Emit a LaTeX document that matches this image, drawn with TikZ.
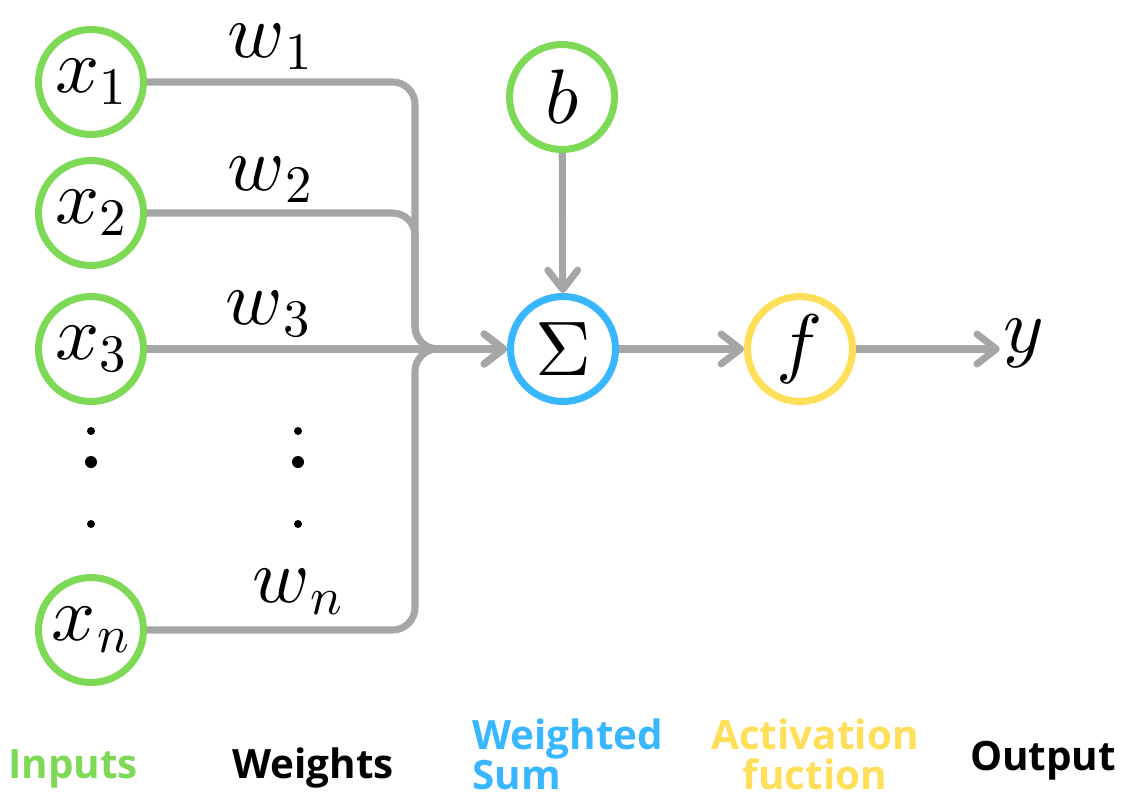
\RequirePackage{fix-cm}
\documentclass[tikz,border=0pt]{standalone}
\usepackage[no-math]{fontspec}
\newfontfamily\labelfont{Open Sans}
\usetikzlibrary{arrows.meta}
\DeclareFontShape{OML}{cmm}{m}{it}{<->cmmi10}{}
\DeclareFontShape{OT1}{cmr}{m}{n}{<->cmr10}{}
\DeclareMathSizes{44}{44}{30}{22}
\definecolor{inpgreen}{HTML}{7ED957}
\definecolor{sumblue}{HTML}{38B6FF}
\definecolor{actyellow}{HTML}{FFDE59}
\definecolor{wiregray}{HTML}{A6A6A6}
\tikzset{
  neuron/.style={circle, draw=#1, line width=4pt, minimum size=2.1cm, inner sep=0pt, font=\fontsize{44}{50}\selectfont},
  wire/.style={draw=wiregray, line width=4pt, rounded corners=0.45cm},
  arr/.style={-{Straight Barb[length=11pt,width=17pt,round]}},
  wlabel/.style={inner sep=2pt, font=\fontsize{44}{50}\selectfont},
  caption/.style={font=\labelfont\bfseries\fontsize{23}{22.7}\selectfont},
}
\begin{document}
\begin{tikzpicture}[x=0.02cm, y=-0.02cm]
\useasboundingbox (0,0) rectangle (1124,801);
% neurons
\node[neuron=inpgreen] (x1) at (91,82) {$x_1$};
\node[neuron=inpgreen] (x2) at (91,213) {$x_2$};
\node[neuron=inpgreen] (x3) at (91,349) {$x_3$};
\node[neuron=inpgreen] (xn) at (91,630) {$x_{\kern1pt n}$};
\node[neuron=inpgreen] (b) at (562,97) {$b$};
\node[neuron=sumblue] (sum) at (563,349) {$\Sigma$};
\node[neuron=actyellow] (f) at (800,349) {$f$};
\node[wlabel] (y) at (1024,343) {$y$};
% weights
\node[wlabel] (w1) at (270,47) {$w_{\kern1.5pt 1}$};
\node[wlabel] (w2) at (270,180) {$w_{\kern1.5pt 2}$};
\node[wlabel] (w3) at (268,314) {$w_{\kern1.5pt 3}$};
\node[wlabel] (wn) at (298,592) {$w_{\kern1.5pt n}$};
% dots
\fill (91,431) circle (0.08cm); \fill (91,462) circle (0.12cm); \fill (91,524) circle (0.08cm);
\fill (298,431) circle (0.08cm); \fill (298,462) circle (0.12cm); \fill (298,524) circle (0.08cm);
% connections
\coordinate (bus) at (415,349);
\draw[wire,arr] (x1) -- (x1 -| bus) -- (bus) -- (sum.west);
\draw[wire,arr] (x2) -- (x2 -| bus) -- (bus) -- (sum.west);
\draw[wire,arr] (xn) -- (xn -| bus) -- (bus) -- (sum.west);
\draw[wire,arr] (x3) -- (sum);
\draw[wire,arr] (b) -- (sum);
\draw[wire,arr] (sum) -- (f);
\draw[wire,arr] (f) -- (f -| y.west);
% captions
\node[caption, text=inpgreen, anchor=base] (inputs) at (73,778) {Inputs};
\node[caption, anchor=base] (weights) at (313,778) {Weights};
\node[caption, text=sumblue, align=left, anchor=west] (wsum) at (466,754) {Weighted\\Sum};
\node[caption, text=actyellow, align=center] (act) at (815,754) {Activation\\fuction};
\node[caption, anchor=base] (output) at (1043,770) {Output};
\end{tikzpicture}
\end{document}
